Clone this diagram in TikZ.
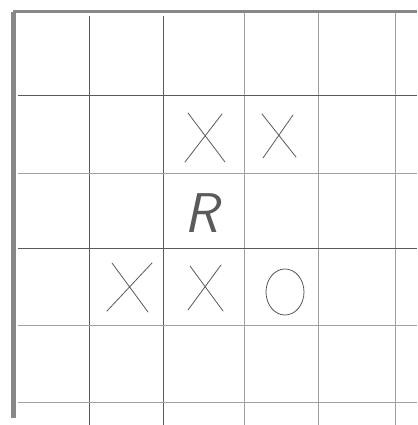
\documentclass[tikz,border=0pt]{standalone}
\usepackage{tikz}
\usepackage{xcolor}
\usetikzlibrary{positioning}
\definecolor{paper}  {HTML}{FFFFFF}
\definecolor{pencil} {HTML}{A0A0A0}
\definecolor{lead}   {HTML}{5A5A5A}
\tikzset{
  gridline/.style={draw=pencil,line width=0.8pt},
  darkline/.style={draw=lead,line width=1pt},
  frameline/.style={draw=pencil!85!black,line width=#1},
  cross/.style={draw=lead,line width=0.8pt,line cap=round},
}

\begin{document}
\begin{tikzpicture}[x=1pt,y=-1pt]
  \useasboundingbox[fill=paper] (0,0) rectangle (417,425);
  % grid of the board
  \foreach \gx in {244,318,395}
    \draw[gridline] (\gx,13) -- (\gx,425);
  \foreach \gx in {89,163}
    \draw[darkline] (\gx,16) -- (\gx,425);
  \foreach \gy in {173,325,402}
    \draw[gridline] (18,\gy) -- (417,\gy);
  \foreach \gy in {96,248}
    \draw[darkline] (18,\gy) -- (417,\gy);
  % pencil frame, top and left
  \draw[frameline=3pt] (13,12) -- (417,12);
  \draw[frameline=5pt] (13,418) -- (13,12);
  % marks in the cells
  \draw[cross] (185,162) -- (222,114) (188,113) -- (225,162);
  \draw[cross] (263,158) -- (293,115) (262,114) -- (296,157);
  \node[text=lead,font=\fontsize{56}{56}\selectfont\sffamily\slshape] (rook) at (201,213) {R};
  \draw[cross] (107,311) -- (152,263) (112,263) -- (148,312);
  \draw[cross] (188,310) -- (221,265) (190,266) -- (223,311);
  \draw[cross] (285,292) ellipse (19pt and 23pt);
\end{tikzpicture}
\end{document}
